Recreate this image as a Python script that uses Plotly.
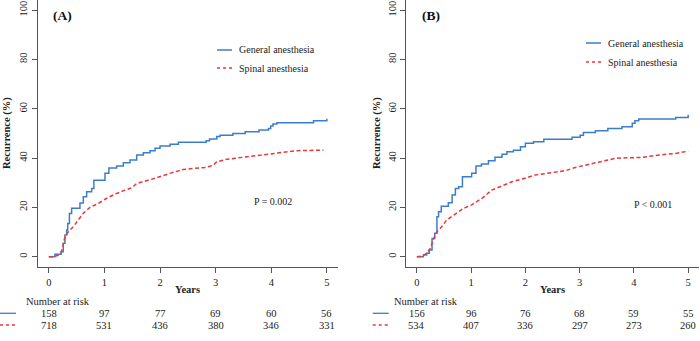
import plotly.graph_objects as go

# ---------------- data ----------------
years_ticks = [0, 1, 2, 3, 4, 5]
pct_ticks = [0, 20, 40, 60, 80, 100]

a_general_t = [0, 0.11, 0.22, 0.26, 0.29, 0.32, 0.34, 0.37, 0.41, 0.56, 0.62, 0.68, 0.77, 0.81, 1.01, 1.08,
               1.22, 1.34, 1.46, 1.58, 1.70, 1.82, 1.91, 2.0, 2.18, 2.33, 2.83, 2.89, 3.02, 3.08, 3.31,
               3.53, 3.78, 3.95, 3.99, 4.03, 4.1, 4.76, 5.0]
a_general_y = [0, 1.0, 2.0, 5.5, 8.8, 10.8, 13.5, 17.5, 19.7, 21.8, 24.3, 26.3, 27.7, 31.0, 33.8, 36.0,
               36.8, 38.1, 39.2, 41.2, 42.2, 43.0, 44.0, 44.9, 45.6, 46.4, 47.0, 47.7, 48.7, 49.3, 50.0,
               50.7, 51.4, 52.0, 53.0, 53.8, 54.3, 55.1, 55.9]
a_spinal_t = [0, 0.1, 0.17, 0.22, 0.25, 0.29, 0.35, 0.44, 0.53, 0.62, 0.74, 0.89, 1.04, 1.19, 1.37,
              1.5, 1.58, 1.76, 1.94, 2.18, 2.42, 2.6, 2.81, 2.95, 3.02, 3.2, 3.56, 4.04, 4.46, 4.94]
a_spinal_y = [0, 0, 0.7, 1.6, 4.0, 8.1, 10.1, 12.2, 14.9, 17.6, 20.0, 21.6, 23.7, 25.4, 27.0,
              28.0, 29.7, 30.7, 32.0, 33.8, 35.4, 35.8, 36.2, 37.0, 38.5, 39.5, 40.5, 41.9, 43.0, 43.2]

b_general_t = [0, 0.12, 0.18, 0.23, 0.28, 0.33, 0.37, 0.40, 0.45, 0.58, 0.65, 0.71, 0.77, 0.84, 1.01,
               1.09, 1.19, 1.32, 1.44, 1.57, 1.66, 1.78, 1.91, 2.0, 2.15, 2.34, 2.86, 3.01, 3.07, 3.29,
               3.52, 3.78, 3.97, 4.02, 4.09, 4.77, 5.0]
b_general_y = [0, 0.7, 1.4, 2.7, 7.4, 9.5, 16.2, 18.2, 20.5, 21.9, 25.0, 27.7, 28.4, 32.4, 33.8,
               36.8, 37.6, 38.9, 40.3, 41.6, 42.6, 43.2, 44.6, 46.0, 46.6, 47.6, 48.4, 49.3, 50.4, 51.1,
               52.0, 52.7, 54.1, 55.1, 55.8, 56.5, 57.6]
b_spinal_t = [0, 0.09, 0.18, 0.25, 0.31, 0.37, 0.46, 0.55, 0.68, 0.86, 1.01, 1.2, 1.38, 1.57, 1.75,
              1.94, 2.18, 2.49, 2.74, 2.92, 3.17, 3.44, 3.66, 4.15, 4.46, 4.77, 5.0]
b_spinal_y = [0, 0.2, 1.4, 3.4, 7.4, 10.1, 12.2, 14.9, 16.9, 19.6, 21.0, 23.7, 27.0, 28.7, 30.4,
              31.5, 33.1, 34.1, 34.9, 36.2, 37.6, 38.8, 39.9, 40.3, 41.2, 41.9, 42.8]

a_risk_general = [158, 97, 77, 69, 60, 56]
a_risk_spinal = [718, 531, 436, 380, 346, 331]
b_risk_general = [156, 96, 76, 68, 59, 55]
b_risk_spinal = [534, 407, 336, 297, 273, 260]

series_names = ["General anesthesia", "Spinal anesthesia"]
panel_labels = ["(A)", "(B)"]
p_values = ["P = 0.002", "P &lt; 0.001"]

# ---------------- style ----------------
W, H = 700, 341
FONT = "Liberation Serif, Times New Roman, serif"
BLUE = "#3C7DCB"
RED = "#E8383A"
AXIS = "#555555"
TXT = "#222222"
FS = 10


def px(x):
    return x / W


def py(y):
    return 1 - y / H


fig = go.Figure()

fig.add_trace(go.Scatter(x=a_general_t, y=a_general_y, mode="lines", line_shape="hv",
                         line=dict(color=BLUE, width=1.5), xaxis="x", yaxis="y", showlegend=False))
fig.add_trace(go.Scatter(x=a_spinal_t, y=a_spinal_y, mode="lines",
                         line=dict(color=RED, width=1.5, dash="4px,2.5px"), xaxis="x", yaxis="y",
                         showlegend=False))
fig.add_trace(go.Scatter(x=b_general_t, y=b_general_y, mode="lines", line_shape="hv",
                         line=dict(color=BLUE, width=1.5), xaxis="x2", yaxis="y2", showlegend=False))
fig.add_trace(go.Scatter(x=b_spinal_t, y=b_spinal_y, mode="lines",
                         line=dict(color=RED, width=1.5, dash="4px,2.5px"), xaxis="x2", yaxis="y2",
                         showlegend=False))

xaxis_common = dict(range=[-0.2, 5.2], tickvals=years_ticks, ticks="outside", ticklen=5,
                    tickcolor=AXIS, showline=True, linecolor=AXIS, linewidth=1.2, showgrid=False,
                    zeroline=False, tickfont=dict(family=FONT, size=FS + 0.5, color=TXT), fixedrange=True)
yaxis_common = dict(range=[-4.05, 104.1], tickvals=pct_ticks, ticks="outside", ticklen=5,
                    tickcolor=AXIS, showline=True, linecolor=AXIS, linewidth=1.2, showgrid=False,
                    zeroline=False, tickangle=-90,
                    tickfont=dict(family=FONT, size=FS + 0.5, color=TXT), fixedrange=True)

y_dom = [py(266.7), 1.0]
fig.update_layout(
    width=W, height=H,
    margin=dict(l=0, r=0, t=0, b=0),
    paper_bgcolor="white", plot_bgcolor="white",
    font=dict(family=FONT, size=FS, color=TXT),
    xaxis=dict(domain=[px(37.7), px(338)], anchor="y", **xaxis_common),
    yaxis=dict(domain=y_dom, anchor="x", **yaxis_common),
    xaxis2=dict(domain=[px(406), px(699)], anchor="y2", **xaxis_common),
    yaxis2=dict(domain=y_dom, anchor="x2", **yaxis_common),
    hovermode=False,
)

annotations = []
shapes = []

panels = [
    dict(xref="x", left=37.7, right=338, ytitle_x=7, label_x=62.5, leg_x=217, leg_y=50, leg_dy=18,
         p_x=252, p_y=201.7, nar_x=24, key_x=0, risk=(a_risk_general, a_risk_spinal)),
    dict(xref="x2", left=406, right=699, ytitle_x=377, label_x=431, leg_x=586, leg_y=43, leg_dy=19,
         p_x=631.7, p_y=204, nar_x=391.7, key_x=372.7, risk=(b_risk_general, b_risk_spinal)),
]

for i, p in enumerate(panels):
    xmid = (p["left"] + p["right"]) / 2
    annotations.append(dict(x=px(p["ytitle_x"]), y=py(133), xref="paper", yref="paper",
                            text="<b>Recurrence (%)</b>", textangle=-90, showarrow=False,
                            font=dict(family=FONT, size=FS + 0.5, color=TXT),
                            xanchor="center", yanchor="middle"))
    annotations.append(dict(x=px(xmid), y=py(289), xref="paper", yref="paper",
                            text="<b>Years</b>", showarrow=False,
                            font=dict(family=FONT, size=FS + 0.5, color=TXT),
                            xanchor="center", yanchor="middle"))
    annotations.append(dict(x=px(p["label_x"]), y=py(16), xref="paper", yref="paper",
                            text="<b>" + panel_labels[i] + "</b>", showarrow=False,
                            font=dict(family=FONT, size=13.5, color="#111111"),
                            xanchor="center", yanchor="middle"))
    for j, (name, col, dash) in enumerate([(series_names[0], BLUE, "solid"),
                                           (series_names[1], RED, "dot")]):
        yy = p["leg_y"] + j * p["leg_dy"]
        shapes.append(dict(type="line", xref="paper", yref="paper",
                           x0=px(p["leg_x"]), x1=px(p["leg_x"] + 15), y0=py(yy), y1=py(yy),
                           line=dict(color=col, width=1.5, dash=dash)))
        annotations.append(dict(x=px(p["leg_x"] + 20), y=py(yy), xref="paper", yref="paper",
                                text=name, showarrow=False,
                                font=dict(family=FONT, size=FS, color=TXT),
                                xanchor="left", yanchor="middle"))
    annotations.append(dict(x=px(p["p_x"]), y=py(p["p_y"]), xref="paper", yref="paper",
                            text=p_values[i], showarrow=False,
                            font=dict(family=FONT, size=FS, color=TXT),
                            xanchor="left", yanchor="middle"))
    annotations.append(dict(x=px(p["nar_x"]), y=py(301.7), xref="paper", yref="paper",
                            text="Number at risk", showarrow=False,
                            font=dict(family=FONT, size=FS + 0.5, color=TXT),
                            xanchor="left", yanchor="middle"))
    for j, (vals, col, dash, yy) in enumerate([(p["risk"][0], BLUE, "solid", 313.3),
                                               (p["risk"][1], RED, "dot", 325)]):
        shapes.append(dict(type="line", xref="paper", yref="paper",
                           x0=px(p["key_x"]), x1=px(p["key_x"] + 16), y0=py(yy), y1=py(yy),
                           line=dict(color=col, width=1.3, dash=dash)))
        for t, v in zip(years_ticks, vals):
            annotations.append(dict(x=t, y=py(yy), xref=p["xref"], yref="paper",
                                    text=str(v), showarrow=False,
                                    font=dict(family=FONT, size=FS + 0.5, color=TXT),
                                    xanchor="center", yanchor="middle"))

fig.update_layout(annotations=annotations, shapes=shapes)
fig.write_html(
    "out.html",
    config={"displayModeBar": False, "staticPlot": True},
    post_script="document.body.style.margin='0';document.body.style.padding='0';"
                "document.documentElement.style.overflow='hidden';",
)
